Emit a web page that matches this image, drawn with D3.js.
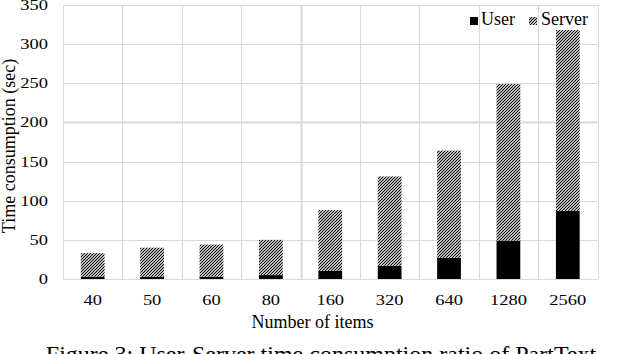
<!DOCTYPE html>
<html>
<head>
<meta charset="utf-8">
<script src="https://cdn.jsdelivr.net/npm/d3@7"></script>
<style>
body { margin: 0; background: #fff; }
text { font-family: "Liberation Serif", "Times New Roman", serif; fill: #000; }
</style>
</head>
<body>
<script>
// data
var items = ["40", "50", "60", "80", "160", "320", "640", "1280", "2560"];
var userTime = [3, 3, 3, 5, 10.5, 17, 27, 49, 87];
var totalTime = [33, 40, 44, 50, 88, 131, 164, 249, 318];
var serverTime = totalTime.map(function(t, i) { return t - userTime[i]; });
var yTicks = [0, 50, 100, 150, 200, 250, 300, 350];

var W = 618, H = 354;
var margin = {top: 5, right: 20, bottom: 75, left: 63};
var width = 597.5 - margin.left,
    height = 279 - margin.top;

var svg = d3.select("body").append("svg")
  .attr("width", W)
  .attr("height", H);

// hatch pattern for server part
var defs = svg.append("defs");
var pat = defs.append("pattern")
  .attr("id", "hatch")
  .attr("patternUnits", "userSpaceOnUse")
  .attr("width", 3)
  .attr("height", 3);
pat.append("rect").attr("width", 3).attr("height", 3).attr("fill", "#fff");
pat.append("path")
  .attr("d", "M0,3 L3,0 M-1,1 L1,-1 M2,4 L4,2")
  .attr("stroke", "#000")
  .attr("stroke-width", 1.1);

var g = svg.append("g")
  .attr("transform", "translate(" + margin.left + "," + margin.top + ")");

var x = d3.scaleBand()
  .domain(items)
  .range([0, width])
  .paddingInner(0.6)
  .paddingOuter(0.3);

var y = d3.scaleLinear()
  .domain([0, 350])
  .range([height, 0]);

// horizontal gridlines
g.append("g")
  .selectAll("line")
  .data(yTicks)
  .enter().append("line")
  .attr("x1", 0)
  .attr("x2", width)
  .attr("y1", function(d) { return Math.round(y(d)) + 0.5; })
  .attr("y2", function(d) { return Math.round(y(d)) + 0.5; })
  .attr("stroke", "#d9d9d9")
  .attr("stroke-width", function(d) { return d == 200 ? 2 : 1; });

// vertical gridlines at category boundaries
var step = width / items.length;
g.append("g")
  .selectAll("line")
  .data(d3.range(items.length + 1))
  .enter().append("line")
  .attr("x1", function(i) { return Math.round(i * step) + 0.5; })
  .attr("x2", function(i) { return Math.round(i * step) + 0.5; })
  .attr("y1", 0)
  .attr("y2", height)
  .attr("stroke", "#d9d9d9")
  .attr("stroke-width", function(i) { return i == 4 ? 2 : 1; });

// stacked bars
var stackData = items.map(function(d, i) {
  return {item: d, user: userTime[i], server: serverTime[i]};
});
var series = d3.stack().keys(["user", "server"])(stackData);

g.selectAll(".series")
  .data(series)
  .enter().append("g")
  .attr("class", "series")
  .attr("fill", function(s) { return s.key == "user" ? "#000" : "url(#hatch)"; })
  .selectAll("rect")
  .data(function(s) { return s; })
  .enter().append("rect")
  .attr("x", function(d) { return x(d.data.item); })
  .attr("width", x.bandwidth())
  .attr("y", function(d) { return y(d[1]); })
  .attr("height", function(d) { return y(d[0]) - y(d[1]); });

// tick labels are wide and short in the picture
g.append("g")
  .selectAll("text")
  .data(yTicks)
  .enter().append("text")
  .attr("transform", function(d) { return "translate(-15," + (y(d) + 5) + ") scale(1.23,1)"; })
  .attr("text-anchor", "end")
  .style("font-size", "15px")
  .text(function(d) { return d; });

g.append("g")
  .selectAll("text")
  .data(items)
  .enter().append("text")
  .attr("transform", function(d) {
    return "translate(" + (x(d) + x.bandwidth() / 2) + "," + (height + 25.5) + ") scale(1.23,1)";
  })
  .attr("text-anchor", "middle")
  .style("font-size", "15px")
  .text(function(d) { return d; });

// axis titles
svg.append("text")
  .attr("x", 312.5)
  .attr("y", 328)
  .attr("text-anchor", "middle")
  .style("font-size", "18px")
  .text("Number of items");

svg.append("text")
  .attr("transform", "translate(14.5,146) rotate(-90)")
  .attr("text-anchor", "middle")
  .style("font-size", "18px")
  .text("Time consumption (sec)");

// legend
var legend = svg.append("g");
legend.append("rect")
  .attr("x", 470).attr("y", 17).attr("width", 8).attr("height", 8)
  .attr("fill", "#000");
legend.append("text")
  .attr("x", 481).attr("y", 24.7)
  .style("font-size", "18px")
  .text("User");
legend.append("rect")
  .attr("x", 529).attr("y", 17).attr("width", 8).attr("height", 8)
  .attr("fill", "url(#hatch)");
legend.append("text")
  .attr("x", 541).attr("y", 24.7)
  .style("font-size", "18px")
  .text("Server");

// caption, cut at the bottom of the picture
svg.append("text")
  .attr("x", 321)
  .attr("y", 362)
  .attr("text-anchor", "middle")
  .style("font-size", "24px")
  .text("Figure 3: User-Server time consumption ratio of PartText");
</script>
</body>
</html>
